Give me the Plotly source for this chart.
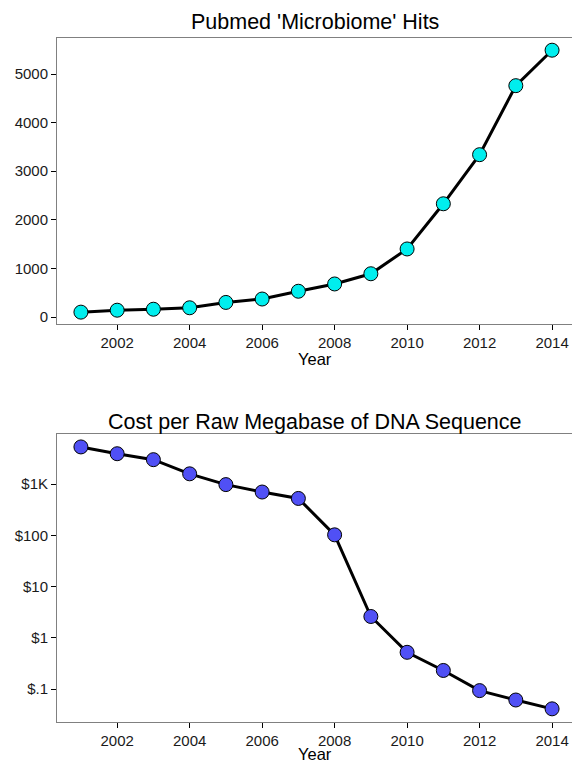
import plotly.graph_objects as go

years = [2001, 2002, 2003, 2004, 2005, 2006, 2007, 2008, 2009, 2010, 2011, 2012, 2013, 2014]
pubmed_hits = [100, 140, 160, 190, 300, 370, 530, 680, 890, 1400, 2330, 3340, 4760, 5490]
cost_per_mb = [5292, 3899, 2986, 1581, 974, 698, 523, 102, 2.6, 0.52, 0.23, 0.093, 0.061, 0.041]

x_ticks = [2002, 2004, 2006, 2008, 2010, 2012, 2014]
hits_ticks = [0, 1000, 2000, 3000, 4000, 5000]
cost_ticks = [0.1, 1, 10, 100, 1000]
cost_ticktext = ["$.1", "$1", "$10", "$100", "$1K"]

W, H = 572, 764
FONT = "Liberation Sans, Arial, Helvetica, sans-serif"
BORDER = "#808080"

def py(px):
    return 1 - px / H

fig = go.Figure()

fig.add_trace(go.Scatter(
    x=years, y=pubmed_hits, mode="lines+markers",
    line=dict(color="black", width=3),
    marker=dict(size=14, color="#00EEEE", line=dict(color="black", width=1)),
    xaxis="x", yaxis="y", showlegend=False))

fig.add_trace(go.Scatter(
    x=years, y=cost_per_mb, mode="lines+markers",
    line=dict(color="black", width=3),
    marker=dict(size=14, color="#5050F5", line=dict(color="black", width=1)),
    xaxis="x2", yaxis="y2", showlegend=False))

axis_common = dict(
    showgrid=False, zeroline=False, showline=True, linecolor=BORDER, linewidth=1,
    ticks="outside", ticklen=5, tickwidth=1, tickcolor="black",
    tickfont=dict(family=FONT, size=15, color="#1a1a1a"))

xrange = [2000.34, 2014.55]
fig.update_layout(
    width=W, height=H,
    margin=dict(l=57, r=0, t=0, b=0),
    paper_bgcolor="white", plot_bgcolor="white",
    xaxis=dict(domain=[0, 1], anchor="y", range=xrange, tickvals=x_ticks, mirror=True, **axis_common),
    yaxis=dict(domain=[py(324), py(38)], anchor="x", range=[-144, 5741], tickvals=hits_ticks, **axis_common),
    xaxis2=dict(domain=[0, 1], anchor="y2", range=xrange, tickvals=x_ticks, mirror=True, **axis_common),
    yaxis2=dict(domain=[py(722), py(434)], anchor="x2", type="log", range=[-1.644, 3.976],
                tickvals=cost_ticks, ticktext=cost_ticktext, **axis_common),
)

cx = 0.5
annos = [
    ("Pubmed 'Microbiome' Hits", 22, 21.5),
    ("Year", 359, 16.5),
    ("Cost per Raw Megabase of DNA Sequence", 422, 21.5),
    ("Year", 754, 16.5),
]
for text, ypx, size in annos:
    fig.add_annotation(text=text, xref="paper", yref="paper", x=cx, y=py(ypx),
                       xanchor="center", yanchor="middle", showarrow=False,
                       font=dict(family=FONT, size=size, color="black"))

fig.write_html("out.html")
